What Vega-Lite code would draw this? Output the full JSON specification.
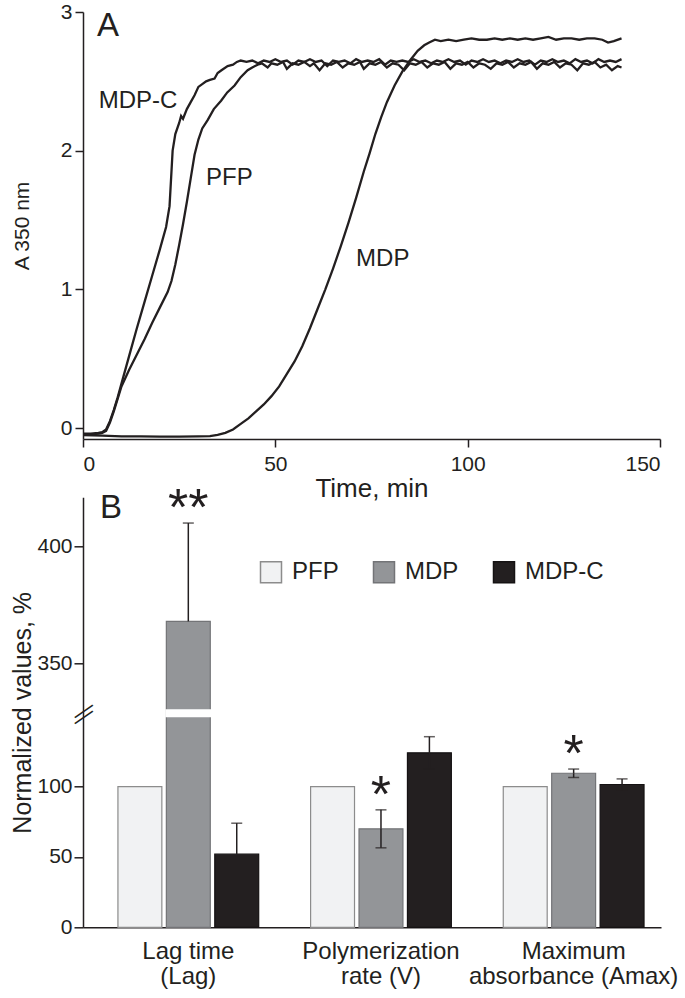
{
  "$schema": "https://vega.github.io/schema/vega-lite/v6.json",
  "background": "white",
  "padding": {"left": 10, "top": 1, "right": 0, "bottom": 0},
  "bounds": "flush",
  "spacing": 58.3,
  "config": {
    "font": "Liberation Sans",
    "view": {"stroke": null},
    "axis": {"grid": false, "domainColor": "#231f20", "tickColor": "#231f20", "labelColor": "#231f20", "titleColor": "#231f20", "domainWidth": 1.5, "tickWidth": 1.5, "labelFontSize": 21, "titleFontWeight": "normal", "titleFontSize": 25, "tickSize": 8},
    "title": {"color": "#231f20"},
    "text": {"color": "#231f20"}
  },
  "vconcat": [
    {
      "width": 577,
      "height": 427,
      "title": {"text": "A", "anchor": "start", "frame": "group", "fontSize": 33, "fontWeight": "normal", "baseline": "top", "offset": -41.5, "dx": 14},
      "data": {"values": [
        {"series":"MDP-C","time":0,"absorbance":-0.04},{"series":"MDP-C","time":2,"absorbance":-0.04},{"series":"MDP-C","time":4,"absorbance":-0.035},{"series":"MDP-C","time":5,"absorbance":-0.03},{"series":"MDP-C","time":6,"absorbance":-0.01},{"series":"MDP-C","time":7,"absorbance":0.05},{"series":"MDP-C","time":8,"absorbance":0.13},{"series":"MDP-C","time":9,"absorbance":0.22},{"series":"MDP-C","time":10,"absorbance":0.32},{"series":"MDP-C","time":12,"absorbance":0.52},{"series":"MDP-C","time":14,"absorbance":0.72},{"series":"MDP-C","time":16,"absorbance":0.91},{"series":"MDP-C","time":18,"absorbance":1.1},{"series":"MDP-C","time":20,"absorbance":1.29},{"series":"MDP-C","time":21.6,"absorbance":1.45},{"series":"MDP-C","time":22.5,"absorbance":1.6},{"series":"MDP-C","time":23,"absorbance":1.85},{"series":"MDP-C","time":23.3,"absorbance":2.0},{"series":"MDP-C","time":24,"absorbance":2.12},{"series":"MDP-C","time":25,"absorbance":2.2},{"series":"MDP-C","time":25.5,"absorbance":2.25},{"series":"MDP-C","time":26,"absorbance":2.23},{"series":"MDP-C","time":27,"absorbance":2.3},{"series":"MDP-C","time":28,"absorbance":2.35},{"series":"MDP-C","time":29,"absorbance":2.4},{"series":"MDP-C","time":30,"absorbance":2.46},{"series":"MDP-C","time":31,"absorbance":2.48},{"series":"MDP-C","time":32,"absorbance":2.5},{"series":"MDP-C","time":33,"absorbance":2.51},{"series":"MDP-C","time":34.2,"absorbance":2.52},{"series":"MDP-C","time":35,"absorbance":2.56},{"series":"MDP-C","time":36,"absorbance":2.58},{"series":"MDP-C","time":37.6,"absorbance":2.61},{"series":"MDP-C","time":39,"absorbance":2.62},{"series":"MDP-C","time":40,"absorbance":2.64},
        {"series":"MDP-C","time":41,"absorbance":2.65},{"series":"MDP-C","time":42.5,"absorbance":2.64},{"series":"MDP-C","time":44,"absorbance":2.65},{"series":"MDP-C","time":45.5,"absorbance":2.63},{"series":"MDP-C","time":47,"absorbance":2.65},{"series":"MDP-C","time":48.5,"absorbance":2.64},{"series":"MDP-C","time":50,"absorbance":2.66},{"series":"MDP-C","time":51.5,"absorbance":2.64},{"series":"MDP-C","time":53,"absorbance":2.65},{"series":"MDP-C","time":54.5,"absorbance":2.62},{"series":"MDP-C","time":56,"absorbance":2.65},{"series":"MDP-C","time":57.5,"absorbance":2.64},{"series":"MDP-C","time":59,"absorbance":2.66},{"series":"MDP-C","time":60.5,"absorbance":2.64},{"series":"MDP-C","time":62,"absorbance":2.65},{"series":"MDP-C","time":63.5,"absorbance":2.61},{"series":"MDP-C","time":65,"absorbance":2.65},{"series":"MDP-C","time":66.5,"absorbance":2.64},{"series":"MDP-C","time":68,"absorbance":2.65},{"series":"MDP-C","time":69.5,"absorbance":2.63},{"series":"MDP-C","time":71,"absorbance":2.66},{"series":"MDP-C","time":72.5,"absorbance":2.64},{"series":"MDP-C","time":74,"absorbance":2.65},{"series":"MDP-C","time":75.5,"absorbance":2.64},{"series":"MDP-C","time":77,"absorbance":2.66},{"series":"MDP-C","time":78.5,"absorbance":2.62},{"series":"MDP-C","time":80,"absorbance":2.65},{"series":"MDP-C","time":81.5,"absorbance":2.64},{"series":"MDP-C","time":83,"absorbance":2.65},{"series":"MDP-C","time":84.5,"absorbance":2.64},{"series":"MDP-C","time":86,"absorbance":2.66},{"series":"MDP-C","time":87.5,"absorbance":2.64},{"series":"MDP-C","time":89,"absorbance":2.65},{"series":"MDP-C","time":90.5,"absorbance":2.63},{"series":"MDP-C","time":92,"absorbance":2.65},{"series":"MDP-C","time":93.5,"absorbance":2.64},{"series":"MDP-C","time":95,"absorbance":2.66},{"series":"MDP-C","time":96.5,"absorbance":2.64},{"series":"MDP-C","time":98,"absorbance":2.65},{"series":"MDP-C","time":99.5,"absorbance":2.62},{"series":"MDP-C","time":101,"absorbance":2.65},{"series":"MDP-C","time":102.5,"absorbance":2.64},{"series":"MDP-C","time":104,"absorbance":2.66},{"series":"MDP-C","time":105.5,"absorbance":2.64},{"series":"MDP-C","time":107,"absorbance":2.65},{"series":"MDP-C","time":108.5,"absorbance":2.63},{"series":"MDP-C","time":110,"absorbance":2.65},{"series":"MDP-C","time":111.5,"absorbance":2.64},{"series":"MDP-C","time":113,"absorbance":2.66},{"series":"MDP-C","time":114.5,"absorbance":2.64},{"series":"MDP-C","time":116,"absorbance":2.65},{"series":"MDP-C","time":117.5,"absorbance":2.62},{"series":"MDP-C","time":119,"absorbance":2.65},{"series":"MDP-C","time":120.5,"absorbance":2.64},{"series":"MDP-C","time":122,"absorbance":2.66},{"series":"MDP-C","time":123.5,"absorbance":2.64},{"series":"MDP-C","time":125,"absorbance":2.65},{"series":"MDP-C","time":126.5,"absorbance":2.63},{"series":"MDP-C","time":128,"absorbance":2.66},{"series":"MDP-C","time":129.5,"absorbance":2.64},{"series":"MDP-C","time":131,"absorbance":2.65},{"series":"MDP-C","time":132.5,"absorbance":2.63},{"series":"MDP-C","time":134,"absorbance":2.66},{"series":"MDP-C","time":135.5,"absorbance":2.64},{"series":"MDP-C","time":137,"absorbance":2.65},{"series":"MDP-C","time":138.5,"absorbance":2.64},{"series":"MDP-C","time":140,"absorbance":2.66},
        {"series":"PFP","time":0,"absorbance":-0.045},{"series":"PFP","time":2,"absorbance":-0.045},{"series":"PFP","time":4,"absorbance":-0.04},{"series":"PFP","time":5,"absorbance":-0.035},{"series":"PFP","time":6,"absorbance":-0.02},{"series":"PFP","time":7,"absorbance":0.04},{"series":"PFP","time":8,"absorbance":0.12},{"series":"PFP","time":9,"absorbance":0.21},{"series":"PFP","time":10,"absorbance":0.3},{"series":"PFP","time":12,"absorbance":0.42},{"series":"PFP","time":14,"absorbance":0.53},{"series":"PFP","time":16,"absorbance":0.64},{"series":"PFP","time":18,"absorbance":0.76},{"series":"PFP","time":20,"absorbance":0.87},{"series":"PFP","time":22,"absorbance":0.98},{"series":"PFP","time":23,"absorbance":1.06},{"series":"PFP","time":24,"absorbance":1.18},{"series":"PFP","time":25,"absorbance":1.32},{"series":"PFP","time":26,"absorbance":1.47},{"series":"PFP","time":27,"absorbance":1.63},{"series":"PFP","time":28,"absorbance":1.8},{"series":"PFP","time":29,"absorbance":1.97},{"series":"PFP","time":30,"absorbance":2.08},{"series":"PFP","time":31,"absorbance":2.16},{"series":"PFP","time":32.4,"absorbance":2.22},{"series":"PFP","time":34,"absorbance":2.3},{"series":"PFP","time":35.9,"absorbance":2.36},{"series":"PFP","time":37.5,"absorbance":2.42},{"series":"PFP","time":39.4,"absorbance":2.47},{"series":"PFP","time":41,"absorbance":2.53},{"series":"PFP","time":42.8,"absorbance":2.58},{"series":"PFP","time":44,"absorbance":2.6},{"series":"PFP","time":45.4,"absorbance":2.62},
        {"series":"PFP","time":46.5,"absorbance":2.63},{"series":"PFP","time":48,"absorbance":2.6},{"series":"PFP","time":49,"absorbance":2.63},{"series":"PFP","time":50.5,"absorbance":2.62},{"series":"PFP","time":52,"absorbance":2.64},{"series":"PFP","time":53,"absorbance":2.59},{"series":"PFP","time":54.5,"absorbance":2.63},{"series":"PFP","time":56,"absorbance":2.62},{"series":"PFP","time":57.5,"absorbance":2.64},{"series":"PFP","time":59,"absorbance":2.61},{"series":"PFP","time":60,"absorbance":2.63},{"series":"PFP","time":61.5,"absorbance":2.58},{"series":"PFP","time":63,"absorbance":2.63},{"series":"PFP","time":64.5,"absorbance":2.62},{"series":"PFP","time":66,"absorbance":2.64},{"series":"PFP","time":67.5,"absorbance":2.6},{"series":"PFP","time":69,"absorbance":2.63},{"series":"PFP","time":70.5,"absorbance":2.62},{"series":"PFP","time":72,"absorbance":2.64},{"series":"PFP","time":73,"absorbance":2.59},{"series":"PFP","time":74.5,"absorbance":2.63},{"series":"PFP","time":76,"absorbance":2.62},{"series":"PFP","time":77.5,"absorbance":2.64},{"series":"PFP","time":79,"absorbance":2.6},{"series":"PFP","time":80.5,"absorbance":2.63},{"series":"PFP","time":82,"absorbance":2.62},{"series":"PFP","time":83.5,"absorbance":2.58},{"series":"PFP","time":85,"absorbance":2.63},{"series":"PFP","time":86.5,"absorbance":2.62},{"series":"PFP","time":88,"absorbance":2.64},{"series":"PFP","time":89.5,"absorbance":2.6},{"series":"PFP","time":91,"absorbance":2.63},{"series":"PFP","time":92.5,"absorbance":2.62},{"series":"PFP","time":94,"absorbance":2.64},{"series":"PFP","time":95.5,"absorbance":2.59},{"series":"PFP","time":97,"absorbance":2.63},{"series":"PFP","time":98.5,"absorbance":2.62},{"series":"PFP","time":100,"absorbance":2.64},{"series":"PFP","time":101.5,"absorbance":2.6},{"series":"PFP","time":103,"absorbance":2.63},{"series":"PFP","time":104.5,"absorbance":2.62},{"series":"PFP","time":106,"absorbance":2.59},{"series":"PFP","time":107.5,"absorbance":2.63},{"series":"PFP","time":109,"absorbance":2.62},{"series":"PFP","time":110.5,"absorbance":2.64},{"series":"PFP","time":112,"absorbance":2.6},{"series":"PFP","time":113.5,"absorbance":2.63},{"series":"PFP","time":115,"absorbance":2.62},{"series":"PFP","time":116.5,"absorbance":2.64},{"series":"PFP","time":118,"absorbance":2.59},{"series":"PFP","time":119.5,"absorbance":2.63},{"series":"PFP","time":121,"absorbance":2.62},{"series":"PFP","time":122.5,"absorbance":2.64},{"series":"PFP","time":124,"absorbance":2.6},{"series":"PFP","time":125.5,"absorbance":2.63},{"series":"PFP","time":127,"absorbance":2.62},{"series":"PFP","time":128.5,"absorbance":2.58},{"series":"PFP","time":130,"absorbance":2.63},{"series":"PFP","time":131.5,"absorbance":2.62},{"series":"PFP","time":133,"absorbance":2.64},{"series":"PFP","time":134.5,"absorbance":2.6},{"series":"PFP","time":136,"absorbance":2.62},{"series":"PFP","time":137.5,"absorbance":2.58},{"series":"PFP","time":139,"absorbance":2.61},{"series":"PFP","time":140,"absorbance":2.6},
        {"series":"MDP","time":0,"absorbance":-0.05},{"series":"MDP","time":5,"absorbance":-0.055},{"series":"MDP","time":10,"absorbance":-0.06},{"series":"MDP","time":15,"absorbance":-0.06},{"series":"MDP","time":20,"absorbance":-0.062},{"series":"MDP","time":25,"absorbance":-0.062},{"series":"MDP","time":30,"absorbance":-0.06},{"series":"MDP","time":33,"absorbance":-0.058},{"series":"MDP","time":35,"absorbance":-0.05},{"series":"MDP","time":37,"absorbance":-0.035},{"series":"MDP","time":39,"absorbance":-0.01},{"series":"MDP","time":41,"absorbance":0.03},{"series":"MDP","time":43,"absorbance":0.07},{"series":"MDP","time":45,"absorbance":0.12},{"series":"MDP","time":47,"absorbance":0.17},{"series":"MDP","time":49,"absorbance":0.23},{"series":"MDP","time":51,"absorbance":0.3},{"series":"MDP","time":53,"absorbance":0.39},{"series":"MDP","time":55,"absorbance":0.48},{"series":"MDP","time":57,"absorbance":0.59},{"series":"MDP","time":59,"absorbance":0.72},{"series":"MDP","time":61,"absorbance":0.86},{"series":"MDP","time":63,"absorbance":1.0},{"series":"MDP","time":65,"absorbance":1.15},{"series":"MDP","time":67,"absorbance":1.31},{"series":"MDP","time":69,"absorbance":1.48},{"series":"MDP","time":71,"absorbance":1.66},{"series":"MDP","time":73,"absorbance":1.85},{"series":"MDP","time":74.5,"absorbance":1.98},{"series":"MDP","time":76,"absorbance":2.12},{"series":"MDP","time":77.5,"absorbance":2.24},{"series":"MDP","time":79,"absorbance":2.35},{"series":"MDP","time":81,"absorbance":2.47},{"series":"MDP","time":83,"absorbance":2.57},{"series":"MDP","time":85,"absorbance":2.65},{"series":"MDP","time":87,"absorbance":2.72},{"series":"MDP","time":88.7,"absorbance":2.76},{"series":"MDP","time":90,"absorbance":2.78},{"series":"MDP","time":91.5,"absorbance":2.8},{"series":"MDP","time":93,"absorbance":2.79},{"series":"MDP","time":95,"absorbance":2.8},{"series":"MDP","time":97,"absorbance":2.79},{"series":"MDP","time":99,"absorbance":2.8},{"series":"MDP","time":101,"absorbance":2.81},{"series":"MDP","time":103,"absorbance":2.8},{"series":"MDP","time":105,"absorbance":2.8},{"series":"MDP","time":107,"absorbance":2.81},{"series":"MDP","time":109,"absorbance":2.8},{"series":"MDP","time":111,"absorbance":2.81},{"series":"MDP","time":113,"absorbance":2.8},{"series":"MDP","time":115,"absorbance":2.81},{"series":"MDP","time":117,"absorbance":2.8},{"series":"MDP","time":119,"absorbance":2.81},{"series":"MDP","time":121,"absorbance":2.82},{"series":"MDP","time":123,"absorbance":2.8},{"series":"MDP","time":125,"absorbance":2.81},{"series":"MDP","time":127,"absorbance":2.81},{"series":"MDP","time":129,"absorbance":2.8},{"series":"MDP","time":131,"absorbance":2.81},{"series":"MDP","time":133,"absorbance":2.81},{"series":"MDP","time":135,"absorbance":2.8},{"series":"MDP","time":136.5,"absorbance":2.78},{"series":"MDP","time":138,"absorbance":2.79},{"series":"MDP","time":140,"absorbance":2.81}
      ]},
      "layer": [
        {
          "mark": {"type": "line", "color": "#231f20", "strokeWidth": 2.3},
          "encoding": {
            "x": {"field": "time", "type": "quantitative", "scale": {"domain": [0, 150], "nice": false}, "axis": {"values": [0, 50, 100, 150], "format": "d", "title": "Time, min", "titleFontSize": 26, "labelPadding": 6, "titlePadding": 1}},
            "y": {"field": "absorbance", "type": "quantitative", "scale": {"domain": [-0.079, 3], "nice": false, "zero": false}, "axis": {"values": [0, 1, 2, 3], "format": "d", "title": "A 350 nm", "titleFontSize": 21, "labelPadding": 3, "titlePadding": 28}},
            "detail": {"field": "series", "type": "nominal"}
          }
        },
        {
          "data": {"values": [{}]},
          "mark": {"type": "text", "text": "MDP-C", "fontSize": 24, "align": "left", "baseline": "middle"},
          "encoding": {"x": {"datum": 4.1, "type": "quantitative"}, "y": {"datum": 2.36, "type": "quantitative"}}
        },
        {
          "data": {"values": [{}]},
          "mark": {"type": "text", "text": "PFP", "fontSize": 24, "align": "left", "baseline": "middle"},
          "encoding": {"x": {"datum": 32, "type": "quantitative"}, "y": {"datum": 1.8, "type": "quantitative"}}
        },
        {
          "data": {"values": [{}]},
          "mark": {"type": "text", "text": "MDP", "fontSize": 24, "align": "left", "baseline": "middle"},
          "encoding": {"x": {"datum": 71, "type": "quantitative"}, "y": {"datum": 1.22, "type": "quantitative"}}
        }
      ]
    },
    {
      "width": 578,
      "height": 430,
      "title": {"text": "B", "anchor": "start", "frame": "group", "fontSize": 33, "fontWeight": "normal", "baseline": "top", "offset": -42, "dx": 17},
      "data": {"values": [
        {"parameter": "Lag time (Lag)", "sample": "PFP", "value": 100},
        {"parameter": "Lag time (Lag)", "sample": "MDP", "value": 368, "upper": 410, "sig": "**"},
        {"parameter": "Lag time (Lag)", "sample": "MDP-C", "value": 52, "upper": 74},
        {"parameter": "Polymerization rate (V)", "sample": "PFP", "value": 100},
        {"parameter": "Polymerization rate (V)", "sample": "MDP", "value": 70, "lower": 56.5, "upper": 83.5, "sig": "*"},
        {"parameter": "Polymerization rate (V)", "sample": "MDP-C", "value": 124, "lower": 112.5, "upper": 135.5},
        {"parameter": "Maximum absorbance (Amax)", "sample": "PFP", "value": 100},
        {"parameter": "Maximum absorbance (Amax)", "sample": "MDP", "value": 109.5, "lower": 106.5, "upper": 112.5, "sig": "*"},
        {"parameter": "Maximum absorbance (Amax)", "sample": "MDP-C", "value": 101.5, "lower": 97.5, "upper": 105.5}
      ]},
      "resolve": {"scale": {"x": "independent"}},
      "layer": [
        {
          "encoding": {
            "x": {"field": "parameter", "type": "nominal", "sort": ["Lag time (Lag)", "Polymerization rate (V)", "Maximum absorbance (Amax)"],
                  "scale": {"domain": ["Lag time (Lag)", "Polymerization rate (V)", "Maximum absorbance (Amax)"], "paddingInner": 0.2694, "paddingOuter": 0.1347, "align": 0.673},
                  "axis": {"title": null, "ticks": false, "labelAngle": 0, "labelPadding": 12, "labelFontSize": 24, "labelLineHeight": 25, "labelBaseline": "top", "labelLimit": 400, "labelOverlap": false,
                           "labelExpr": "datum.value == 'Lag time (Lag)' ? ['Lag time', '(Lag)'] : datum.value == 'Polymerization rate (V)' ? ['Polymerization', 'rate (V)'] : ['Maximum', 'absorbance (Amax)']"}},
            "xOffset": {"field": "sample", "type": "nominal", "sort": ["PFP", "MDP", "MDP-C"], "scale": {"domain": ["PFP", "MDP", "MDP-C"], "paddingInner": 0.093, "paddingOuter": 0}},
            "y": {"type": "quantitative", "scale": {"domain": [0, 150, 330, 421], "range": [430, 219, 213, 0], "nice": false, "zero": false},
                  "axis": {"values": [0, 50, 100, 350, 400], "title": "Normalized values, %", "tickSize": 9, "labelPadding": 2, "titlePadding": 1.5}}
          },
          "layer": [
            {
              "mark": {"type": "bar", "strokeWidth": 1.2},
              "encoding": {
                "y": {"field": "value", "type": "quantitative"},
                "fill": {"field": "sample", "type": "nominal", "scale": {"domain": ["PFP", "MDP", "MDP-C"], "range": ["#f1f2f3", "#939598", "#231f20"]},
                         "legend": {"orient": "none", "legendX": 176, "legendY": 548, "direction": "horizontal", "title": null, "labelFontSize": 24, "labelColor": "#231f20", "symbolSize": 441, "symbolType": "square", "columnPadding": 31, "labelOffset": 9, "padding": 0, "symbolStrokeWidth": 1.5, "symbolOpacity": 1}},
                "stroke": {"field": "sample", "type": "nominal", "scale": {"domain": ["PFP", "MDP", "MDP-C"], "range": ["#8c8c8c", "#737477", "#151213"]},
                           "legend": {"orient": "none", "legendX": 176, "legendY": 548, "direction": "horizontal", "title": null, "labelFontSize": 24, "labelColor": "#231f20", "symbolSize": 441, "symbolType": "square", "columnPadding": 31, "labelOffset": 9, "padding": 0, "symbolStrokeWidth": 1.5, "symbolOpacity": 1}}
              }
            },
            {
              "data": {"values": [{}]},
              "mark": {"type": "bar", "fill": "white", "stroke": "white", "strokeWidth": 2},
              "encoding": {
                "x": {"datum": "Lag time (Lag)", "type": "nominal"},
                "xOffset": {"datum": "MDP", "type": "nominal"},
                "y": {"datum": 150, "type": "quantitative"},
                "y2": {"datum": 330}
              }
            },
            {
              "mark": {"type": "rule", "color": "#231f20", "strokeWidth": 1.5},
              "encoding": {"y": {"field": "value", "type": "quantitative"}, "y2": {"field": "upper"}}
            },
            {
              "transform": [{"filter": "isValid(datum.lower)"}],
              "mark": {"type": "rule", "color": "#231f20", "strokeWidth": 1.5},
              "encoding": {"y": {"field": "lower", "type": "quantitative"}, "y2": {"field": "value"}}
            },
            {
              "transform": [{"filter": "isValid(datum.upper)"}],
              "mark": {"type": "tick", "color": "#231f20", "thickness": 1.5, "size": 11, "orient": "horizontal"},
              "encoding": {"y": {"field": "upper", "type": "quantitative"}}
            },
            {
              "transform": [{"filter": "isValid(datum.lower)"}],
              "mark": {"type": "tick", "color": "#231f20", "thickness": 1.5, "size": 11, "orient": "horizontal"},
              "encoding": {"y": {"field": "lower", "type": "quantitative"}}
            },
            {
              "transform": [{"filter": "isValid(datum.sig)"}],
              "mark": {"type": "text", "fontSize": 52, "baseline": "alphabetic", "align": "center", "dy": 2},
              "encoding": {"y": {"field": "upper", "type": "quantitative"}, "text": {"field": "sig"}}
            }
          ]
        },
        {
          "data": {"values": [{}]},
          "layer": [
            {
              "mark": {"type": "text", "text": "—", "fontSize": 22, "angle": -35, "align": "center", "baseline": "middle", "color": "#231f20"},
              "encoding": {"x": {"datum": 0, "type": "quantitative", "scale": {"domain": [0, 1]}, "axis": null}, "y": {"datum": 150, "type": "quantitative"}}
            },
            {
              "mark": {"type": "text", "text": "—", "fontSize": 22, "angle": -35, "align": "center", "baseline": "middle", "color": "#231f20"},
              "encoding": {"x": {"datum": 0, "type": "quantitative", "scale": {"domain": [0, 1]}, "axis": null}, "y": {"datum": 330, "type": "quantitative"}}
            }
          ]
        }
      ]
    }
  ]
}
